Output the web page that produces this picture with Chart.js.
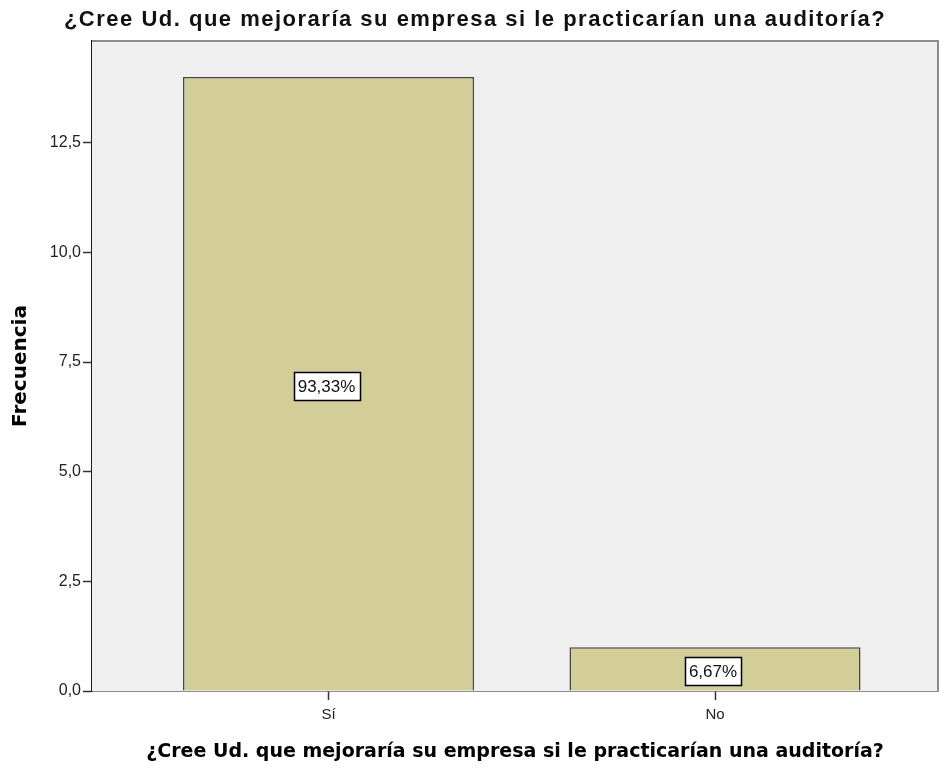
<!DOCTYPE html>
<html>
<head>
<meta charset="utf-8">
<script src="https://cdn.jsdelivr.net/npm/chart.js@4/dist/chart.umd.min.js"></script>
<style>
  html, body { margin: 0; padding: 0; background: #ffffff; }
  #wrap { width: 941px; height: 770px; }
</style>
</head>
<body>
<div id="wrap"><canvas id="bar-chart"></canvas></div>
<script>
var chartTitle = '¿Cree Ud. que mejoraría su empresa si le practicarían una auditoría?';
var categories = ['Sí', 'No'];
var frecuencias = [14, 1];
var porcentajes = ['93,33%', '6,67%'];

// background of the plot area + gray frame on top/right, like SPSS
var plotFrame = {
    id: 'plotFrame',
    beforeDatasetsDraw: function(chart) {
        var a = chart.chartArea, c = chart.ctx;
        c.save();
        c.fillStyle = '#efefef';
        c.fillRect(a.left, a.top, a.right - a.left, a.bottom - a.top);
        c.strokeStyle = '#8c8c8c';
        c.lineWidth = 2;
        c.beginPath();
        c.moveTo(a.left, a.top);
        c.lineTo(a.right, a.top);
        c.lineTo(a.right, a.bottom);
        c.stroke();
        c.restore();
    }
};

// top title
var topTitle = {
    id: 'topTitle',
    afterDraw: function(chart) {
        var c = chart.ctx;
        c.save();
        c.font = 'bold 22px "Liberation Sans", Arial, sans-serif';
        c.letterSpacing = '1.5px';
        c.fillStyle = '#111111';
        c.textAlign = 'center';
        c.textBaseline = 'middle';
        c.fillText(chartTitle, 475, 20);
        c.restore();
    }
};

// boxed percent label in the middle of every bar
var pctLabels = {
    id: 'pctLabels',
    afterDatasetsDraw: function(chart) {
        var c = chart.ctx;
        var bars = chart.getDatasetMeta(0).data;
        c.save();
        c.font = '17px "Liberation Sans", Arial, sans-serif';
        c.textAlign = 'center';
        c.textBaseline = 'middle';
        for (var i = 0; i < bars.length; i++) {
            var b = bars[i];
            var txt = porcentajes[i];
            var w = Math.round(c.measureText(txt).width + 8);
            var h = 28;
            var cx = b.x - 2;
            var cy = (b.y + b.base) / 2 + 2.5;
            var bx = Math.round(cx - w / 2) + 0.5, by = Math.round(cy - h / 2) + 0.5;
            c.fillStyle = '#ffffff';
            c.fillRect(bx, by, w, h);
            c.strokeStyle = '#000000';
            c.lineWidth = 1.5;
            c.strokeRect(bx, by, w, h);
            c.fillStyle = '#111111';
            c.fillText(txt, cx, cy + 1);
        }
        c.restore();
    }
};

var ctx = document.getElementById('bar-chart').getContext('2d');

var barChart = new Chart(ctx, {
    type: 'bar',
    data: {
        datasets: [{
            data: frecuencias.map(function(v, i) { return {x: i, y: v}; }),
            backgroundColor: '#d3ce97',
            borderColor: '#444444',
            borderWidth: 1.5,
            barPercentage: 0.753,
            categoryPercentage: 1
        }]
    },
    options: {
        responsive: true,
        maintainAspectRatio: false,
        animation: false,
        layout: { padding: { left: 0, right: 3, top: 41, bottom: 0 } },
        plugins: {
            legend: { display: false },
            tooltip: { enabled: false },
            title: { display: false }
        },
        scales: {
            x: {
                type: 'linear',
                offset: false,
                min: -0.612,
                max: 1.577,
                afterBuildTicks: function(scale) {
                    scale.ticks = categories.map(function(c, i) { return {value: i}; });
                },
                afterFit: function(scale) { scale.height = 79; },
                ticks: {
                    autoSkip: false,
                    maxRotation: 0,
                    padding: 6,
                    color: '#222222',
                    font: { family: '"Liberation Sans", Arial, sans-serif', size: 15 },
                    callback: function(v) { return categories[v]; }
                },
                grid: { display: true, offset: false, drawOnChartArea: false, tickLength: 9, tickWidth: 1.5, color: '#333333' },
                border: { display: true, color: '#1a1a1a', width: 1.5 },
                title: {
                    display: true,
                    text: chartTitle,
                    color: '#000000',
                    font: { family: '"DejaVu Sans", sans-serif', size: 19, weight: 'bold' },
                    padding: { top: 0, bottom: 7 }
                }
            },
            y: {
                min: 0,
                max: 14.82,
                afterFit: function(scale) { scale.width = 92; },
                ticks: {
                    stepSize: 2.5,
                    includeBounds: false,
                    padding: 2,
                    color: '#222222',
                    font: { family: '"Liberation Sans", Arial, sans-serif', size: 16 },
                    callback: function(v) { return v.toFixed(1).replace('.', ','); }
                },
                grid: { display: true, drawOnChartArea: false, tickLength: 9, tickWidth: 1.5, color: '#333333' },
                border: { display: true, color: '#1a1a1a', width: 1.5 },
                title: {
                    display: true,
                    text: 'Frecuencia',
                    color: '#000000',
                    font: { family: '"DejaVu Sans", sans-serif', size: 20, weight: 'bold' },
                    padding: { top: 9 }
                }
            }
        }
    },
    plugins: [plotFrame, pctLabels, topTitle]
});
</script>
</body>
</html>
